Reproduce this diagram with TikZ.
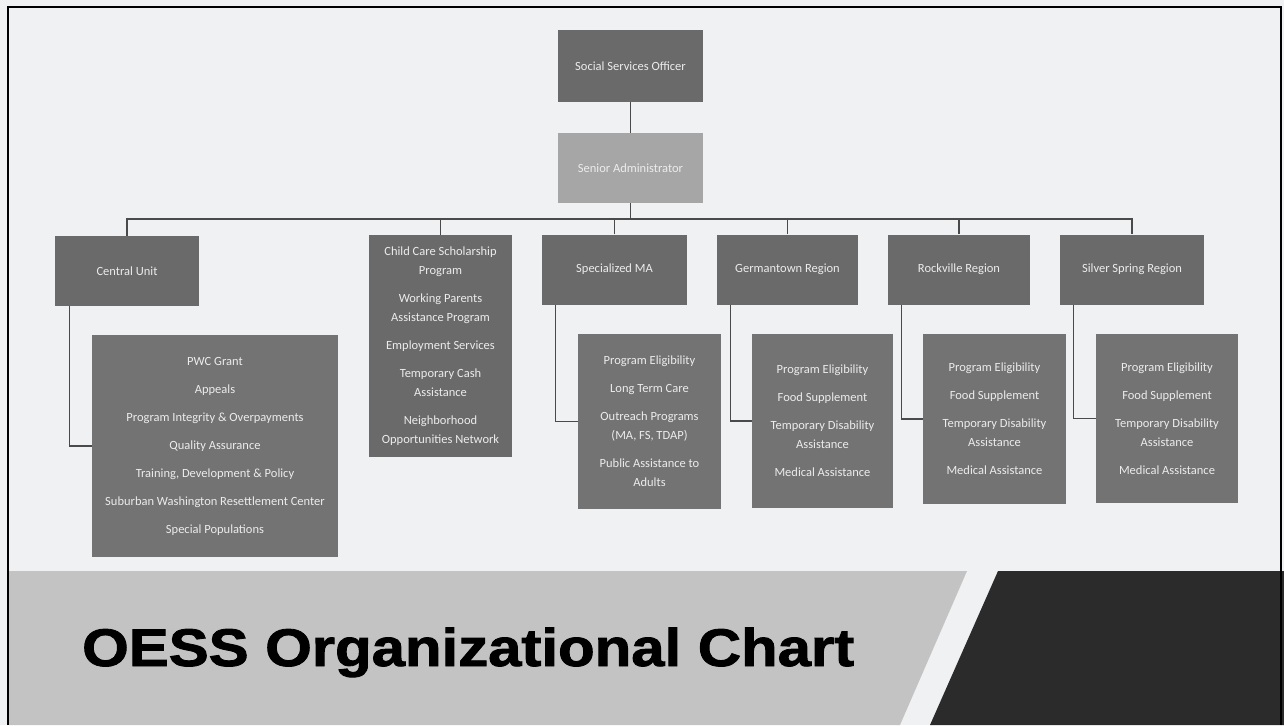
\documentclass[tikz,border=0pt]{standalone}
\usepackage{fontspec}
\newfontfamily\boxfont{Carlito}
\newfontfamily\titlefont{Liberation Sans}[BoldFeatures={FakeBold=1.6}]
\definecolor{bgc}{HTML}{F0F1F3}
\definecolor{boxdark}{HTML}{6A6A6A}
\definecolor{boxmid}{HTML}{737373}
\definecolor{boxlight}{HTML}{A6A6A6}
\definecolor{boxtext}{HTML}{ECECEC}
\definecolor{linec}{HTML}{4A4A4A}
\definecolor{bandlight}{HTML}{C3C3C3}
\definecolor{banddark}{HTML}{2B2B2B}
\tikzset{
  orgbox/.style={rectangle, fill=boxdark, text=boxtext, align=center, inner sep=0pt,
    font=\boxfont\fontsize{12.5}{19}\selectfont},
  subbox/.style={orgbox, fill=boxmid},
  conn/.style={draw=linec, line width=1.2pt},
}
\begin{document}
\begin{tikzpicture}[x=1pt,y=-1pt]
\useasboundingbox (0,0) rectangle (1284,725);
\fill[bgc] (0,0) rectangle (1284,725);
% banner
\fill[bandlight] (9,571) -- (967,571) -- (900,725) -- (9,725) -- cycle;
\fill[banddark] (998,571) -- (1284,571) -- (1284,725) -- (930,725) -- cycle;
% frame
\draw[black, line width=2.4pt] (8,725) -- (8,7) -- (1281,7) -- (1281,725);
% title
\node[anchor=base west, inner sep=0pt, text=black] (title) at (82,666)
  {\scalebox{1.13}[1]{\titlefont\bfseries\fontsize{53}{60}\selectfont OESS Organizational Chart}};

% top boxes
\node[orgbox, minimum width=145pt, minimum height=72pt] (soc) at (630.5,66) {Social Services Officer};
\node[orgbox, fill=boxlight, minimum width=145pt, minimum height=70pt] (sen) at (630.5,168) {Senior Administrator};

% row 1
\node[orgbox, minimum width=144pt, minimum height=70pt] (cen) at (127,271) {Central Unit};
\node[orgbox, minimum width=143pt, minimum height=222pt] (ccs) at (440.5,346)
  {Child Care Scholarship\\Program\\[9pt]Working Parents\\Assistance Program\\[9pt]Employment Services\\[9pt]Temporary Cash\\Assistance\\[9pt]Neighborhood\\Opportunities Network};
\node[orgbox, minimum width=145pt, minimum height=70pt] (sma) at (614.5,269.5) {Specialized MA};
\node[orgbox, minimum width=141pt, minimum height=70pt] (ger) at (787.5,269.5) {Germantown Region};
\node[orgbox, minimum width=142pt, minimum height=70pt] (roc) at (959,269.5) {Rockville Region};
\node[orgbox, minimum width=144pt, minimum height=70pt] (sil) at (1132,269.5) {Silver Spring Region};

% sub boxes
\node[subbox, minimum width=246pt, minimum height=222pt] (censub) at (215,446)
  {PWC Grant\\[9pt]Appeals\\[9pt]Program Integrity \& Overpayments\\[9pt]Quality Assurance\\[9pt]Training, Development \& Policy\\[9pt]Suburban Washington Resettlement Center\\[9pt]Special Populations};
\node[subbox, minimum width=143pt, minimum height=175pt] (smasub) at (649.5,421.5)
  {Program Eligibility\\[9pt]Long Term Care\\[9pt]Outreach Programs\\(MA, FS, TDAP)\\[9pt]Public Assistance to\\Adults};
\node[subbox, minimum width=141pt, minimum height=174pt] (gersub) at (822.5,421)
  {Program Eligibility\\[9pt]Food Supplement\\[9pt]Temporary Disability\\Assistance\\[9pt]Medical Assistance};
\node[subbox, minimum width=143pt, minimum height=170pt] (rocsub) at (994.5,419)
  {Program Eligibility\\[9pt]Food Supplement\\[9pt]Temporary Disability\\Assistance\\[9pt]Medical Assistance};
\node[subbox, minimum width=142pt, minimum height=169pt] (silsub) at (1167,418.5)
  {Program Eligibility\\[9pt]Food Supplement\\[9pt]Temporary Disability\\Assistance\\[9pt]Medical Assistance};

% connectors
\coordinate (bus) at (630.5,219);
\draw[conn] (soc.south) -- (sen.north);
\draw[conn] (sen.south) -- (bus);
\draw[conn] (cen.north) |- (bus);
\draw[conn] (ccs.north) |- (bus);
\draw[conn] (sma.north) |- (bus);
\draw[conn] (ger.north) |- (bus);
\draw[conn] (roc.north) |- (bus);
\draw[conn] (sil.north) |- (bus);

\draw[conn] ([xshift=15pt]cen.south west) |- (censub.west);
\draw[conn] ([xshift=14pt]sma.south west) |- (smasub.west);
\draw[conn] ([xshift=14pt]ger.south west) |- (gersub.west);
\draw[conn] ([xshift=14pt]roc.south west) |- (rocsub.west);
\draw[conn] ([xshift=14pt]sil.south west) |- (silsub.west);
\end{tikzpicture}
\end{document}
